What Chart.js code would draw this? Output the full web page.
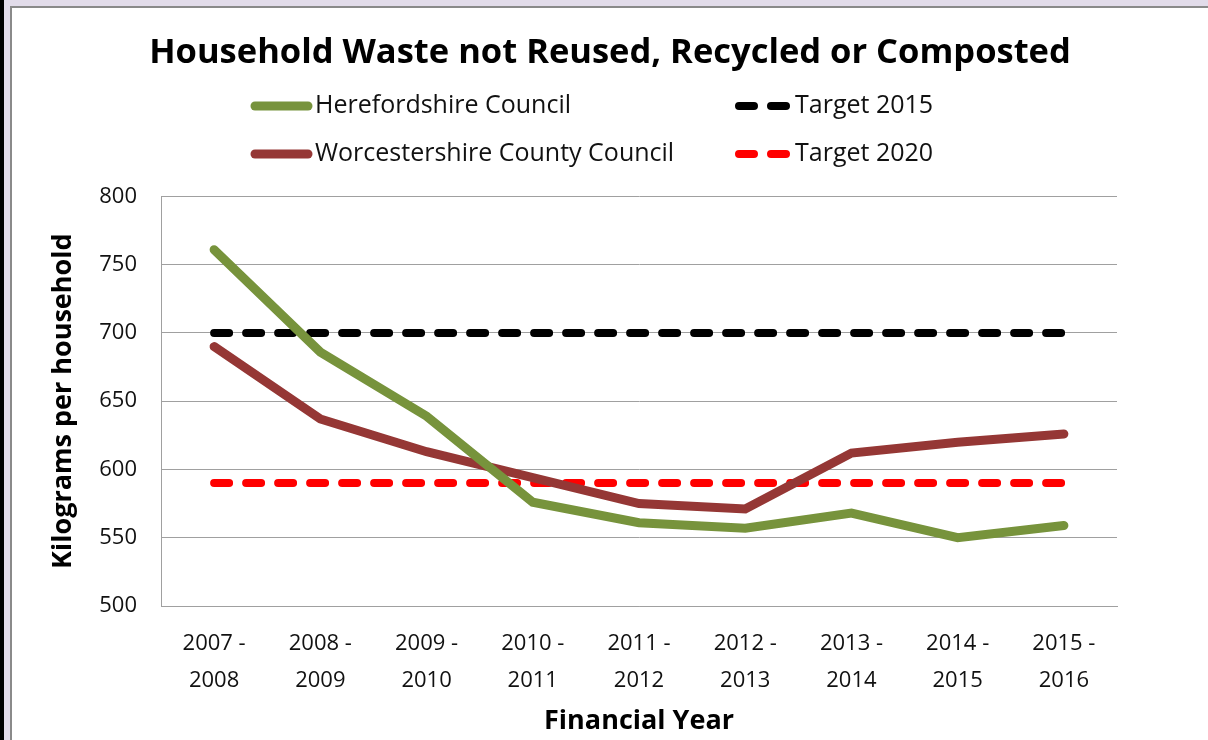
<!DOCTYPE html>
<html lang="en">
  <head>
    <meta charset="UTF-8" />
    <title>Household Waste not Reused, Recycled or Composted</title>
    <style>
      html, body {
        margin: 0;
        padding: 0;
        width: 1208px;
        height: 740px;
        overflow: hidden;
        background: #fff;
      }
      .frame {
        position: absolute;
        left: 0;
        top: 0;
        width: 1208px;
        height: 740px;
        background: #e2dcea;
      }
      .frame .black {
        position: absolute;
        left: 0;
        top: 0;
        width: 4px;
        height: 740px;
        background: #000;
      }
      .frame .inner {
        position: absolute;
        left: 10px;
        top: 6px;
        right: 0;
        bottom: 0;
        background: #fff;
        border-left: 2px solid #8a8a8a;
        border-top: 2px solid #8a8a8a;
      }
      #chartBox {
        position: absolute;
        left: 12px;
        top: 8px;
        width: 1196px;
        height: 732px;
      }
    </style>
  </head>
  <body>
    <div class="frame"><div class="black"></div><div class="inner"></div></div>
    <div id="chartBox"><canvas id="myChart"></canvas></div>
    <script src="https://cdn.jsdelivr.net/npm/chart.js"></script>
    <script>
      const years = [
        ["2007 -", "2008"],
        ["2008 -", "2009"],
        ["2009 -", "2010"],
        ["2010 -", "2011"],
        ["2011 -", "2012"],
        ["2012 -", "2013"],
        ["2013 -", "2014"],
        ["2014 -", "2015"],
        ["2015 -", "2016"],
      ];
      const herefordshire = [761, 686, 639, 576, 561, 557, 568, 550, 559];
      const worcestershire = [690, 637, 613, 594, 575, 571, 612, 620, 626];
      const target2015 = [700, 700, 700, 700, 700, 700, 700, 700, 700];
      const target2020 = [590, 590, 590, 590, 590, 590, 590, 590, 590];

      const font = "'Open Sans', sans-serif";

      // legend drawn in two columns like the Excel original
      const legendSpots = [
        { x: 239, y: 98 },
        { x: 711, y: 98 },
        { x: 239, y: 146 },
        { x: 711, y: 146 },
      ];
      const twoColLegend = {
        id: "twoColLegend",
        afterDraw(chart) {
          const ctx = chart.ctx;
          chart.data.datasets.forEach((ds, i) => {
            const p = legendSpots[i];
            ctx.save();
            ctx.strokeStyle = ds.borderColor;
            ctx.lineWidth = ds.borderWidth;
            ctx.lineCap = "round";
            if (ds.borderDash) ctx.setLineDash(ds.borderDash);
            ctx.beginPath();
            if (ds.borderDash) {
              ctx.moveTo(p.x + 16, p.y);
              ctx.lineTo(p.x + 64, p.y);
            } else {
              ctx.moveTo(p.x + 4, p.y);
              ctx.lineTo(p.x + 57, p.y);
            }
            ctx.stroke();
            ctx.restore();
            ctx.save();
            ctx.fillStyle = "#111";
            ctx.font = "25px " + font;
            ctx.textBaseline = "middle";
            ctx.fillText(ds.label, p.x + (ds.borderDash ? 72 : 64), p.y);
            ctx.restore();
          });
        },
      };

      new Chart(document.getElementById("myChart"), {
        type: "line",
        data: {
          labels: years,
          datasets: [
            {
              label: "Herefordshire Council",
              data: herefordshire,
              borderColor: "#77933c",
              borderWidth: 9,
              pointRadius: 0,
              borderCapStyle: "round",
              borderJoinStyle: "miter",
            },
            {
              label: "Target 2015",
              data: target2015,
              borderColor: "#000000",
              borderWidth: 8,
              borderDash: [15, 17],
              pointRadius: 0,
              borderCapStyle: "round",
            },
            {
              label: "Worcestershire County Council",
              data: worcestershire,
              borderColor: "#953735",
              borderWidth: 9,
              pointRadius: 0,
              borderCapStyle: "round",
              borderJoinStyle: "miter",
            },
            {
              label: "Target 2020",
              data: target2020,
              borderColor: "#ff0000",
              borderWidth: 8,
              borderDash: [15, 17],
              pointRadius: 0,
              borderCapStyle: "round",
            },
          ],
        },
        options: {
          responsive: true,
          maintainAspectRatio: false,
          animation: false,
          layout: { padding: 0 },
          plugins: {
            legend: { display: false },
            tooltip: { enabled: false },
            title: {
              display: true,
              text: "Household Waste not Reused, Recycled or Composted",
              color: "#000",
              font: { family: font, size: 34.5, weight: "bold" },
              padding: { top: 24, bottom: 123 },
            },
          },
          scales: {
            x: {
              offset: true,
              afterFit(scale) {
                scale.height = 134;
              },
              grid: { display: false, drawTicks: false },
              border: { display: true, color: "#a0a0a0", width: 1 },
              ticks: {
                color: "#111",
                padding: 19,
                maxRotation: 0,
                autoSkip: false,
                font: { family: font, size: 22, lineHeight: 1.68 },
              },
              title: {
                display: true,
                text: "Financial Year",
                color: "#000",
                font: { family: font, size: 27, weight: "bold" },
                padding: { top: 0, bottom: 2 },
              },
            },
            y: {
              min: 500,
              max: 800,
              afterFit(scale) {
                scale.width = 149;
              },
              grid: { color: "#a0a0a0", lineWidth: 1, drawTicks: false },
              border: { display: true, color: "#a0a0a0", width: 1 },
              ticks: {
                stepSize: 50,
                color: "#111",
                padding: 24,
                font: { family: font, size: 22 },
              },
              title: {
                display: true,
                text: "Kilograms per household",
                color: "#000",
                font: { family: font, size: 27, weight: "bold" },
                padding: { top: 35, bottom: 0 },
              },
            },
            // empty right-hand space, kept so the title stays centred on the whole canvas
            spacer: {
              position: "right",
              afterFit(scale) {
                scale.width = 91;
              },
              grid: { display: false, drawTicks: false },
              border: { display: false },
              ticks: { display: false },
            },
          },
        },
        plugins: [twoColLegend],
      });
    </script>
  </body>
</html>
